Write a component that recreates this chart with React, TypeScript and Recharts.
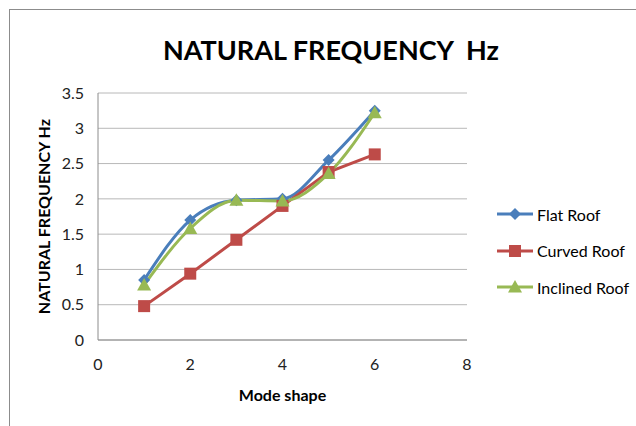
import type { ReactElement } from "react";
import { CartesianGrid, Label, Line, LineChart, XAxis, YAxis } from "recharts";

const modeShapes = [1, 2, 3, 4, 5, 6];
const flatRoof = [0.85, 1.7, 1.98, 2.0, 2.55, 3.25];
const curvedRoof = [0.48, 0.94, 1.42, 1.9, 2.38, 2.63];
const inclinedRoof = [0.78, 1.58, 1.98, 1.97, 2.36, 3.22];

const xTicks = [0, 2, 4, 6, 8];
const yTicks = [0, 0.5, 1, 1.5, 2, 2.5, 3, 3.5];

type MarkerKind = "diamond" | "square" | "triangle";

const SERIES: Array<{ key: string; name: string; color: string; marker: MarkerKind; curve: "monotone" | "linear" }> = [
  { key: "flat", name: "Flat Roof", color: "#4A7EBB", marker: "diamond", curve: "monotone" },
  { key: "curved", name: "Curved Roof", color: "#BE4B48", marker: "square", curve: "linear" },
  { key: "inclined", name: "Inclined Roof", color: "#98B954", marker: "triangle", curve: "monotone" },
];

const data = modeShapes.map((mode, i) => ({
  mode,
  flat: flatRoof[i],
  curved: curvedRoof[i],
  inclined: inclinedRoof[i],
}));

const FONT = "Lato, 'Open Sans', sans-serif";

function Marker({ kind, cx, cy, color }: { kind: MarkerKind; cx: number; cy: number; color: string }): ReactElement {
  if (kind === "diamond") {
    const r = 6;
    return <polygon points={`${cx},${cy - r} ${cx + r},${cy} ${cx},${cy + r} ${cx - r},${cy}`} fill={color} />;
  }
  if (kind === "square") {
    const r = 6;
    return <rect x={cx - r} y={cy - r} width={r * 2} height={r * 2} fill={color} />;
  }
  const r = 7;
  return <polygon points={`${cx},${cy - r} ${cx + r},${cy + r * 0.8} ${cx - r},${cy + r * 0.8}`} fill={color} />;
}

function makeDot(kind: MarkerKind, color: string) {
  return (props: { cx?: number; cy?: number; index?: number }) => {
    if (props.cx == null || props.cy == null) return <g key={props.index} />;
    return <Marker key={props.index} kind={kind} cx={props.cx} cy={props.cy} color={color} />;
  };
}

export default function App(): ReactElement {
  return (
    <div style={{ position: "absolute", left: 0, top: 0, width: 636, height: 426, background: "#fff", overflow: "hidden", fontFamily: FONT }}>
      <div style={{ position: "absolute", left: 9, top: 9, width: 700, height: 500, border: "1px solid #8c8c8c" }} />
      <div style={{ position: "absolute", left: 0, top: 33, width: 662, textAlign: "center", fontSize: 27, fontWeight: 700, color: "#000", whiteSpace: "pre" }}>
        NATURAL FREQUENCY  Hz
      </div>
      <div style={{ position: "absolute", left: 0, top: 0 }}>
        <LineChart width={636} height={426} data={data} margin={{ top: 93, right: 169, bottom: 56, left: 48 }}>
          <CartesianGrid vertical={false} stroke="#b8b8b8" />
          <XAxis
            type="number"
            dataKey="mode"
            domain={[0, 8]}
            ticks={xTicks}
            height={30}
            stroke="#8c8c8c"
            tickLine={false}
            tick={{ fill: "#222", fontSize: 16, fontFamily: FONT }}
            tickMargin={13}
          >
            <Label value="Mode shape" position="insideBottom" offset={-31} style={{ fill: "#000", fontSize: 16, fontWeight: 700, fontFamily: FONT }} />
          </XAxis>
          <YAxis
            type="number"
            domain={[0, 3.5]}
            ticks={yTicks}
            width={50}
            stroke="#8c8c8c"
            tickLine={false}
            tick={{ fill: "#222", fontSize: 16, fontFamily: FONT }}
            tickMargin={8}
          >
            <Label value="NATURAL FREQUENCY  Hz" angle={-90} position="insideLeft" offset={-4} style={{ textAnchor: "middle", fill: "#000", fontSize: 16, fontWeight: 700, fontFamily: FONT }} />
          </YAxis>
          {SERIES.map((s) => (
            <Line
              key={s.key}
              type={s.curve}
              dataKey={s.key}
              name={s.name}
              stroke={s.color}
              strokeWidth={3}
              dot={makeDot(s.marker, s.color)}
              activeDot={false}
              isAnimationActive={false}
            />
          ))}
        </LineChart>
      </div>
      <div style={{ position: "absolute", left: 497, top: 196 }}>
        {SERIES.map((s) => (
          <div key={s.key} style={{ display: "flex", alignItems: "center", height: 36.5 }}>
            <svg width={40} height={16}>
              <line x1={0} y1={8} x2={36} y2={8} stroke={s.color} strokeWidth={3} />
              <Marker kind={s.marker} cx={18} cy={8} color={s.color} />
            </svg>
            <span style={{ fontSize: 16, color: "#000", marginLeft: 0 }}>{s.name}</span>
          </div>
        ))}
      </div>
    </div>
  );
}
